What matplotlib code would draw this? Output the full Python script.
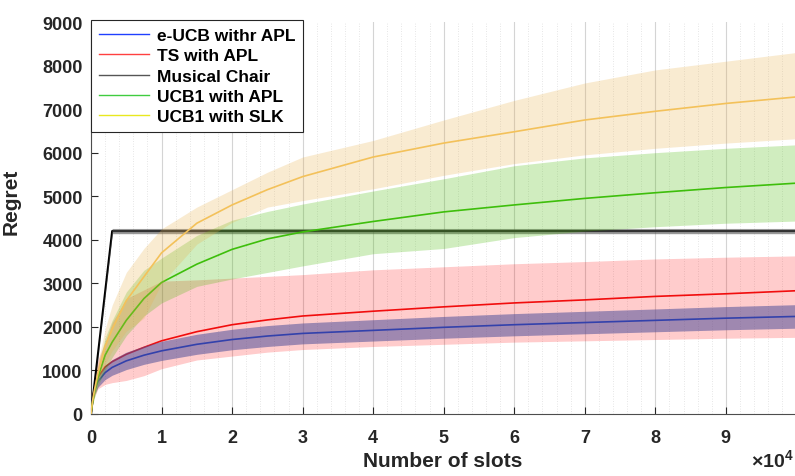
import matplotlib
matplotlib.use("Agg")
import matplotlib.pyplot as plt
from matplotlib.lines import Line2D
from matplotlib.ticker import MultipleLocator, FuncFormatter

plt.rcParams["font.family"] = ["Liberation Sans", "DejaVu Sans"]
plt.rcParams["font.weight"] = "bold"
plt.rcParams["mathtext.fontset"] = "custom"
plt.rcParams["mathtext.rm"] = "Liberation Sans"
plt.rcParams["mathtext.bf"] = "Liberation Sans:bold"

# sample positions (number of slots)
slots = [0, 200, 500, 1000, 2000, 3000, 5000, 7500, 10000, 15000, 20000,
         25000, 30000, 40000, 50000, 60000, 70000, 80000, 90000, 100000]

# e-UCB withr APL
eucb_mean = [0, 320, 550, 750, 950, 1070, 1220, 1350, 1450, 1600, 1710,
             1790, 1850, 1920, 1990, 2050, 2100, 2150, 2200, 2240]
eucb_spread = [0, 60, 100, 130, 160, 180, 200, 210, 220, 230, 235,
               240, 240, 245, 250, 255, 258, 262, 266, 270]

# TS with APL
ts_mean = [0, 350, 600, 850, 1080, 1200, 1370, 1530, 1680, 1890, 2050,
           2160, 2250, 2360, 2460, 2550, 2620, 2700, 2760, 2830]
ts_upper = [0, 500, 900, 1250, 1650, 2100, 2650, 2850, 3050, 3080, 3120,
            3160, 3200, 3310, 3380, 3450, 3500, 3560, 3600, 3630]
ts_lower = [0, 200, 400, 580, 680, 720, 770, 880, 1040, 1240, 1330,
            1420, 1480, 1550, 1600, 1650, 1680, 1710, 1740, 1760]

# Musical Chair
mc_slots = [0, 3000, 100000]
mc_mean = [0, 4200, 4200]
mc_spread = [0, 60, 60]

# UCB1 with APL
ucb_apl_mean = [0, 250, 500, 850, 1350, 1650, 2150, 2650, 3020, 3440, 3780,
                4020, 4180, 4420, 4640, 4800, 4950, 5080, 5200, 5300]
ucb_apl_upper = [0, 300, 650, 1100, 1750, 2150, 2800, 3300, 3580, 4100, 4450,
                 4650, 4820, 5120, 5400, 5700, 5880, 6000, 6100, 6180]
ucb_apl_lower = [0, 200, 380, 650, 1000, 1300, 1800, 2250, 2550, 2930, 3100,
                 3250, 3400, 3680, 3800, 4050, 4200, 4300, 4380, 4430]

# UCB1 with SLK
ucb_slk_mean = [0, 280, 560, 950, 1550, 1950, 2600, 3150, 3700, 4380, 4800,
                5150, 5450, 5900, 6220, 6480, 6750, 6950, 7130, 7280]
ucb_slk_upper = [0, 330, 680, 1200, 1950, 2500, 3250, 3800, 4250, 4750, 5150,
                 5550, 5900, 6280, 6750, 7200, 7600, 7900, 8100, 8300]
ucb_slk_lower = [0, 220, 430, 700, 1150, 1450, 1900, 2200, 3000, 3900, 4400,
                 4750, 4900, 5170, 5480, 5750, 5950, 6100, 6220, 6320]

labels = ["e-UCB withr APL", "TS with APL", "Musical Chair",
          "UCB1 with APL", "UCB1 with SLK"]

fig = plt.figure(figsize=(7.95, 4.77), dpi=100)
ax = fig.add_axes([91 / 795, 62 / 477, 704 / 795, 392 / 477])

# grid: solid major, dotted minor (vertical only)
ax.xaxis.set_major_locator(MultipleLocator(10000))
ax.xaxis.set_minor_locator(MultipleLocator(2000))
ax.xaxis.grid(True, which="major", color="#d4d4d4", linewidth=0.8)
ax.xaxis.grid(True, which="minor", color="#dedede", linewidth=0.6, linestyle=(0, (1, 2)))
ax.set_axisbelow(True)

# TS
ax.plot(slots, ts_mean, color="#ee1111", lw=1.2, zorder=2)
ax.fill_between(slots, ts_lower, ts_upper, color="#ff0000", alpha=0.2, lw=0, zorder=2)

# e-UCB (band sits over the TS band)
lo = [m - s for m, s in zip(eucb_mean, eucb_spread)]
hi = [m + s for m, s in zip(eucb_mean, eucb_spread)]
ax.plot(slots, eucb_mean, color="#1030c0", lw=1.2, zorder=3)
ax.fill_between(slots, lo, hi, color="#50509a", alpha=0.55, lw=0, zorder=3)

# Musical chair
lo = [m - s for m, s in zip(mc_mean, mc_spread)]
hi = [m + s for m, s in zip(mc_mean, mc_spread)]
ax.plot(mc_slots, mc_mean, color="#000000", lw=1.5, zorder=4)
ax.fill_between(mc_slots, lo, hi, color="#555555", alpha=0.6, lw=0, zorder=4)

# UCB1 with APL
ax.plot(slots, ucb_apl_mean, color="#3cc010", lw=1.2, zorder=5)
ax.fill_between(slots, ucb_apl_lower, ucb_apl_upper, color="#44bb00", alpha=0.25, lw=0, zorder=5)

# UCB1 with SLK
ax.plot(slots, ucb_slk_mean, color="#f8c860", lw=1.2, zorder=6)
ax.fill_between(slots, ucb_slk_lower, ucb_slk_upper, color="#e8b04a", alpha=0.25, lw=0, zorder=6)

ax.set_xlim(0, 99800)
ax.set_ylim(0, 9000)
ax.set_xticks(range(0, 100000, 10000))
ax.xaxis.set_major_formatter(FuncFormatter(lambda v, p: f"{v / 10000:g}"))
ax.yaxis.set_major_locator(MultipleLocator(1000))

ax.tick_params(axis="both", which="major", direction="in", length=5, width=0.8,
               labelsize=13, colors="#262626")
ax.tick_params(axis="x", which="major", pad=11)
ax.tick_params(axis="y", which="major", pad=6)
ax.tick_params(axis="x", which="minor", length=0)
for t in ax.get_xticklabels() + ax.get_yticklabels():
    t.set_fontweight("bold")

for spine in ("top", "right"):
    ax.spines[spine].set_visible(False)
for spine in ("left", "bottom"):
    ax.spines[spine].set_color("#4d4d4d")
    ax.spines[spine].set_linewidth(0.8)

ax.set_xlabel("Number of slots", fontsize=15, fontweight="bold", color="#262626")
ax.set_ylabel("Regret", fontsize=15, fontweight="bold", color="#262626")
ax.xaxis.set_label_coords(0.5, -0.095)
ax.yaxis.set_label_coords(-0.1, 0.545)

fig.text(0.998, 0.012, r"$\times\mathbf{10^4}$", ha="right", va="bottom",
         fontsize=14, color="#262626")

handles = [Line2D([], [], color=c, lw=1.0) for c in
           ["#2040ff", "#ff4040", "#555555", "#40cc40", "#e8e820"]]
leg = ax.legend(handles, labels, loc="upper left", bbox_to_anchor=(0, 1.005),
                borderaxespad=0, fancybox=False, framealpha=1, edgecolor="#262626",
                prop={"size": 12.5, "weight": "bold"}, handlelength=2.9,
                handletextpad=0.45, labelspacing=0.3, borderpad=0.45)
leg.get_frame().set_linewidth(0.8)
leg.set_zorder(10)

fig.savefig("out.png", dpi=100)
